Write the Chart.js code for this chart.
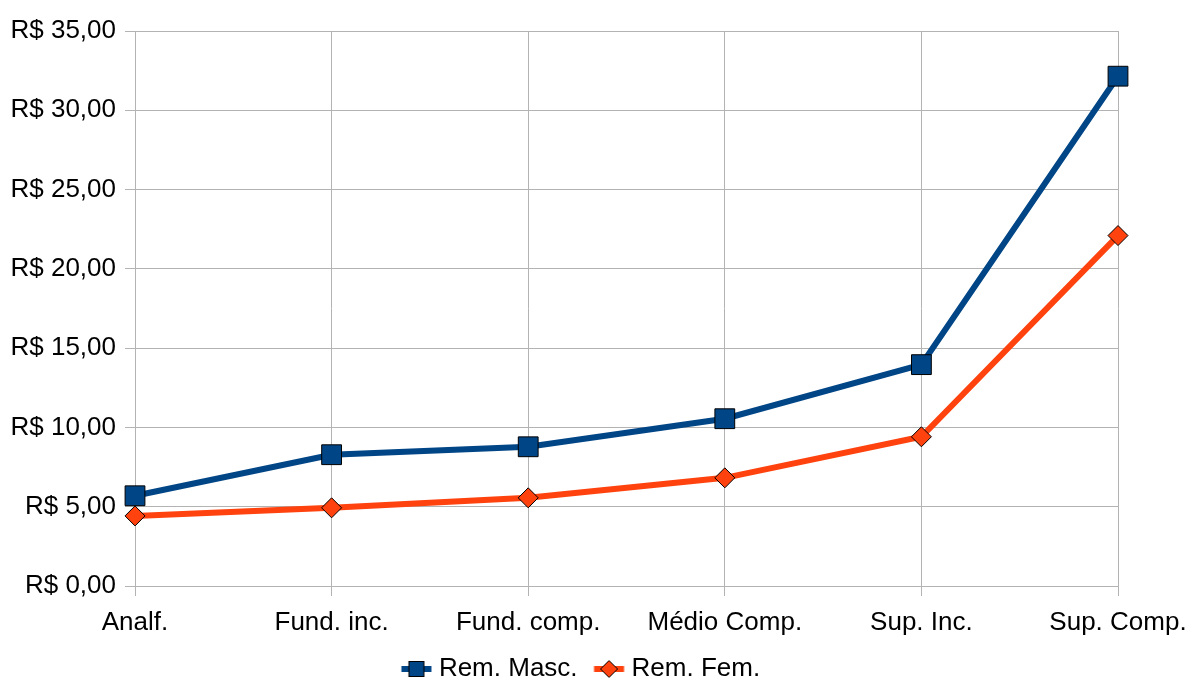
<!DOCTYPE html>
<html>
<head>
<meta charset="utf-8">
<script src="https://cdn.jsdelivr.net/npm/chart.js@4"></script>
<style>
  html, body { margin: 0; padding: 0; background: #fff; }
  #wrap { width: 1188px; height: 682px; }
</style>
</head>
<body>
<div id="wrap"><canvas id="chart" width="1188" height="682"></canvas></div>
<script>
const categories = ['Analf.', 'Fund. inc.', 'Fund. comp.', 'Médio Comp.', 'Sup. Inc.', 'Sup. Comp.']
const remMasc = [5.69, 8.28, 8.78, 10.55, 13.96, 32.15]
const remFem = [4.42, 4.93, 5.56, 6.82, 9.41, 22.10]
const yTicks = [0, 5, 10, 15, 20, 25, 30, 35]

const blue = '#004586'
const orange = '#ff420e'

// line + marker sample for the legend, drawn a bit right of centre
function legendIcon(color, shape) {
    const c = document.createElement('canvas')
    c.width = 50
    c.height = 20
    const g = c.getContext('2d')
    const x0 = 15.5
    g.fillStyle = color
    g.fillRect(x0, 7, 30, 6)
    g.strokeStyle = '#000'
    g.lineWidth = 1
    if (shape === 'rect') {
        g.fillRect(x0 + 7.5, 2.5, 15, 15)
        g.strokeRect(x0 + 7.5, 2.5, 15, 15)
    } else {
        g.beginPath()
        g.moveTo(x0 + 15, 1.5)
        g.lineTo(x0 + 23.5, 10)
        g.lineTo(x0 + 15, 18.5)
        g.lineTo(x0 + 6.5, 10)
        g.closePath()
        g.fill()
        g.stroke()
    }
    return c
}

// nudge the legend a little to the left
const legendShift = {
    id: 'legendShift',
    afterLayout(chart) {
        if (chart.legend) {
            chart.legend.left -= 16
            chart.legend.right -= 16
        }
    }
}

const fmt = v => 'R$ ' + v.toFixed(2).replace('.', ',')
const font = { family: 'Liberation Sans', size: 26 }

const ctx = document.getElementById('chart')
new Chart(ctx, {
    type: 'line',
    data: {
        labels: categories,
        datasets: [{
            label: 'Rem. Masc.',
            data: remMasc,
            borderColor: blue,
            backgroundColor: blue,
            borderWidth: 6,
            pointStyle: 'rect',
            pointRadius: 14,
            pointBorderColor: '#000',
            pointBorderWidth: 1,
            legendIcon: legendIcon(blue, 'rect')
        }, {
            label: 'Rem. Fem.',
            data: remFem,
            borderColor: orange,
            backgroundColor: orange,
            borderWidth: 6,
            pointStyle: 'rectRot',
            pointRadius: 10,
            pointBorderColor: '#000',
            pointBorderWidth: 1,
            legendIcon: legendIcon(orange, 'diamond')
        }]
    },
    plugins: [legendShift],
    options: {
        responsive: false,
        animation: false,
        layout: { padding: { top: 31, right: 0, left: 0, bottom: -10 } },
        plugins: {
            tooltip: { enabled: false },
            legend: {
                position: 'bottom',
                labels: {
                    color: '#000',
                    font: font,
                    usePointStyle: true,
                    pointStyleWidth: 30,
                    padding: 11,
                    boxWidth: 30,
                    boxHeight: 20,
                    generateLabels: chart => chart.data.datasets.map((ds, i) => ({
                        text: ds.label,
                        pointStyle: ds.legendIcon,
                        datasetIndex: i,
                        fontColor: '#000',
                        lineWidth: 0,
                        strokeStyle: 'transparent',
                        fillStyle: ds.borderColor
                    }))
                }
            }
        },
        scales: {
            x: {
                offset: false,
                afterFit: scale => {
                    scale.height = 59
                    scale.paddingRight = 70
                    scale.paddingLeft = 0
                },
                grid: { color: '#b3b3b3', lineWidth: 1, tickLength: 10 },
                border: { color: '#b3b3b3' },
                ticks: {
                    color: '#000',
                    font: font,
                    maxRotation: 0,
                    autoSkip: false,
                    padding: 11
                }
            },
            y: {
                min: 0,
                max: 35,
                afterBuildTicks: scale => { scale.ticks = yTicks.map(v => ({ value: v })) },
                afterFit: scale => {
                    scale.width = 135
                    scale.paddingTop = 0
                    scale.paddingBottom = 0
                },
                grid: { color: '#b3b3b3', lineWidth: 1, tickLength: 10 },
                border: { color: '#b3b3b3' },
                ticks: {
                    color: '#000',
                    font: font,
                    padding: 9,
                    callback: v => fmt(v)
                }
            }
        }
    }
})
</script>
</body>
</html>
